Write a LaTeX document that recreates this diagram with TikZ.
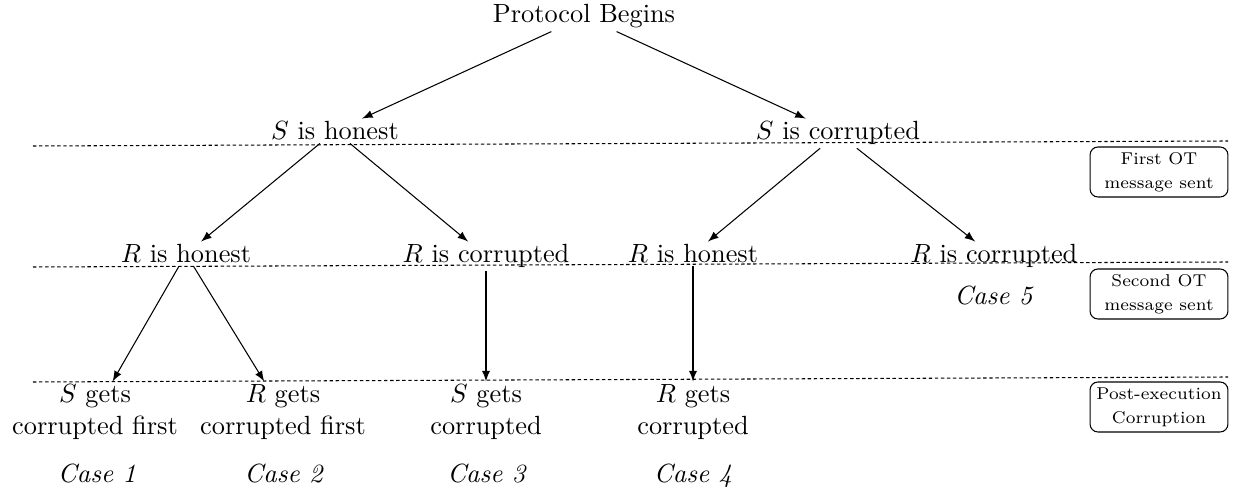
\documentclass[tikz,border=0pt]{standalone}
\usetikzlibrary{arrows}
\begin{document}
\begin{tikzpicture}[x=0.38pt,y=-0.38pt,
  lbl/.style={inner sep=1pt, anchor=base},
  leaf/.style={inner sep=1pt, align=center},
  phase/.style={draw, rounded corners=3pt, font=\fontsize{6.5}{9.2}\selectfont, align=center,
    minimum width=52.4pt, minimum height=19pt, inner sep=1.5pt},
  sepline/.style={dash pattern=on 1.3pt off 1pt},
  edge/.style={-latex}
]
\useasboundingbox (0,0) rectangle (1233,493);

\node[lbl] (PB) at (584,23) {Protocol Begins};
\node[lbl] (Sh) at (335,140) {$S$ is honest};
\node[lbl] (Sc) at (838,140) {$S$ is corrupted};
\node[lbl] (Rh1) at (186,263) {$R$ is honest};
\node[lbl] (Rc1) at (486,263) {$R$ is corrupted};
\node[lbl] (Rh2) at (693,263) {$R$ is honest};
\node[lbl] (Rc2) at (994,263) {$R$ is corrupted};
\node[lbl] (C5) at (994,305) {\textit{Case 5}};

\node[leaf] (B1) at (95,412) {$S$ gets\\corrupted first};
\node[leaf] (B2) at (283,412) {$R$ gets\\corrupted first};
\node[leaf] (B3) at (486,412) {$S$ gets\\corrupted};
\node[leaf] (B4) at (693,412) {$R$ gets\\corrupted};

\node[lbl] (C1) at (97,483) {\textit{Case 1}};
\node[lbl] (C2) at (284,483) {\textit{Case 2}};
\node[lbl] (C3) at (487,483) {\textit{Case 3}};
\node[lbl] (C4) at (693,483) {\textit{Case 4}};

\node[phase] (P1) at (1159,172) {First OT\\message sent};
\node[phase] (P2) at (1159,294) {Second OT\\message sent};
\node[phase] (P3) at (1159,407) {Post-execution\\Corruption};

\coordinate (L1a) at (33,146); \coordinate (L1b) at (1228,141);
\coordinate (L2a) at (33,267); \coordinate (L2b) at (1228,262);
\coordinate (L3a) at (33,382); \coordinate (L3b) at (1228,377);
\draw[sepline] (L1a) -- (L1b);
\draw[sepline] (L2a) -- (L2b);
\draw[sepline] (L3a) -- (L3b);

\draw[edge] (PB) -- (Sh);
\draw[edge] (PB) -- (Sc);
\draw[edge] (Sh) -- (Rh1);
\draw[edge] (Sh) -- (Rc1);
\draw[edge] (Sc) -- (Rh2);
\draw[edge] (Sc) -- (Rc2);
\draw[edge] (Rh1) -- (B1);
\draw[edge] (Rh1) -- (B2);
\draw[edge] (Rc1) -- (B3);
\draw[edge] (Rh2) -- (B4);
\end{tikzpicture}
\end{document}
